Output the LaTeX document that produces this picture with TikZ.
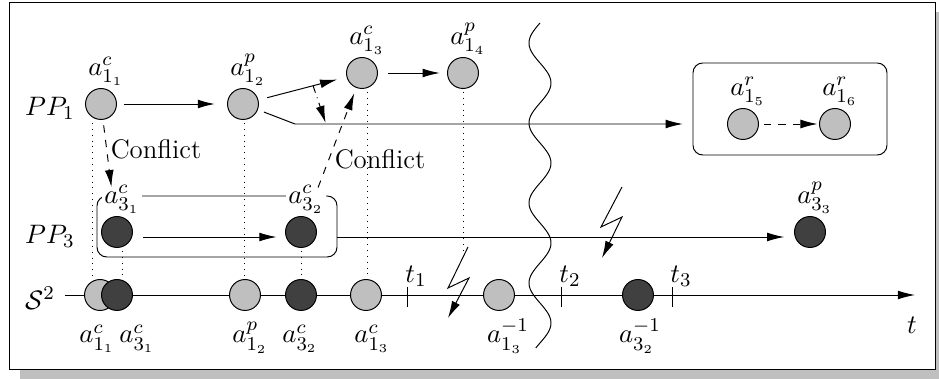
\documentclass[tikz,border=0pt]{standalone}
\usepackage{tikz}
\usepackage{amsmath}
\usetikzlibrary{arrows.meta,fit,calc}

\begin{document}
\begin{tikzpicture}[x=0.41pt,y=-0.41pt,
    every node/.append style={font=\fontsize{11}{13}\selectfont},
    >={Latex[length=7pt,width=3.6pt]},
    hell/.style={circle,draw,fill=black!25,minimum size=12.7pt,inner sep=0pt},
    dunkel/.style={circle,draw,fill=black!75,minimum size=12.7pt,inner sep=0pt},
    oben/.style={label={[inner sep=1pt,fill=white,xshift=2pt]above:#1}},
    unten/.style={anchor=base,inner sep=1pt},
    rahmen/.style={draw,rounded corners=4pt,inner sep=0pt},
    proj/.style={dotted}]
    % Rahmen mit Schatten:
    \useasboundingbox (0,0) rectangle (939,379);
    \clip (0,0) rectangle (939,379);
    \fill[black!25] (20,12) rectangle (946,379);
    \draw[fill=white] (9,2) rectangle (935,369);
    % Kaesten:
    \node[rahmen, fit={(693,63) (887,155)}] (box15) {};
    \node[rahmen, fit={(97,196) (337,257)}] (box31) {};
    % Zeitachse:
    \coordinate (achse) at (65,295);
    \coordinate (achsende) at (915,295);
    \draw[->] (achse) -- (achsende);
    \node (lt) at (912,325) {$t$};
    \foreach \x/\n in {407/1,561/2,672/3}{
        \draw (\x,287) -- (\x,307); % Strich
        \node (t\n) at (\x+9,276) {$t_\n$};
    }
    % Zeilen:
    \node (pp1) at (50,108) {$PP_1$};
    \node (pp3) at (50,236) {$PP_3$};
    \node (s2) at (40,298) {$\mathcal{S}^2$};
    % Aktionen PP_1:
    \node[hell, oben={$a^c_{1_1}$}] (a11) at (101,104) {};
    \node[hell, oben={$a^p_{1_2}$}] (a12) at (243,104) {};
    \node[hell, oben={$a^c_{1_3}$}] (a13) at (362,73) {};
    \node[hell, oben={$a^p_{1_4}$}] (a14) at (463,73) {};
    \node[hell, oben={$a^r_{1_5}$}] (a15) at (743,124) {};
    \node[hell, oben={$a^r_{1_6}$}] (a16) at (835,124) {};
    % Aktionen PP_3:
    \node[dunkel, oben={$a^c_{3_1}$}] (a31) at (117,232) {};
    \node[dunkel, oben={$a^c_{3_2}$}] (a32) at (301,232) {};
    \node[dunkel, oben={$a^p_{3_3}$}] (a33) at (810,232) {};
    % Aktionen S^2:
    \node[hell] (s11) at (100,295) {};
    \node[dunkel] (s31) at (117,295) {};
    \node[hell] (s12) at (245,295) {};
    \node[dunkel] (s32) at (301,295) {};
    \node[hell] (s13) at (366,295) {};
    \node[hell] (s13i) at (499,295) {};
    \node[dunkel] (s32i) at (638,295) {};
    \node[unten] (l11) at (97,343) {$a^c_{1_1}$};
    \node[unten] (l31) at (137,343) {$a^c_{3_1}$};
    \node[unten] (l12) at (250,343) {$a^p_{1_2}$};
    \node[unten] (l32) at (300,343) {$a^c_{3_2}$};
    \node[unten] (l13) at (372,343) {$a^c_{1_3}$};
    \node[unten] (l13i) at (508,343) {$a^{-1}_{1_3}$};
    \node[unten] (l32i) at (640,343) {$a^{-1}_{3_2}$};
    % Pfeile PP_1:
    \draw[->, shorten <=2.7pt, shorten >=5pt] (a11) -- (a12);
    \draw[->, shorten <=3.7pt, shorten >=4pt] (a12) -- (a13);
    \draw[->, shorten <=4pt, shorten >=3pt] (a13) -- (a14);
    \coordinate (knick) at (295,124);
    \draw[->, shorten <=2.7pt, shorten >=4pt] (a12) -- (knick) -- (knick -| box15.west);
    \draw[->, dashed, shorten <=2pt, shorten >=0.6pt] (a15) -- (a16);
    % Pfeile PP_3:
    \coordinate (zeile3) at (0,237);
    \draw[->, shorten <=4.3pt, shorten >=3.5pt] (a31.east |- zeile3) -- (a32.west |- zeile3);
    \draw[->, shorten >=4pt] (box31.east |- zeile3) -- (a33.west |- zeile3);
    % Konflikte:
    \draw[->, dashed, shorten <=2.3pt, shorten >=12pt] (a11) -- (a31);
    \node (konf1) at (156,149) {Conflict};
    \draw[->, dashed, shorten <=13pt, shorten >=2.3pt] (a32) -- (a13);
    \node (konf2) at (380,159) {Conflict};
    \path (a12) -- (a13) coordinate[pos=0.62] (mitte);
    \coordinate (fuss) at (326,124);
    \draw[->, dash dot, shorten >=0.5pt] (mitte) -- (fuss);
    % Projektionen:
    \foreach \o/\u/\d in {a11/s11/-9, a31/s31/5, a12/s12/1, a32/s32/0, a13/s13/5}
        \draw[proj] ($(\o.south)+(\d,3)$) coordinate (pk) -- (pk |- \u.north);
    \coordinate (blitzA) at (468,247);
    \draw[proj] ($(a14.south)+(0,3)$) -- ($(a14.south |- blitzA)+(0,8)$);
    % Blitze:
    \draw[->] (blitzA) -- (448,288) -- (469,278) -- (448,318);
    \draw[->] (622,187) -- (601,227) -- (622,217) -- (602,258);
    % Schnitt:
    \draw plot[domain=23:348, samples=150, smooth] ({540-11*sin((\x-23)*4.5)}, \x);
\end{tikzpicture}
\end{document}
